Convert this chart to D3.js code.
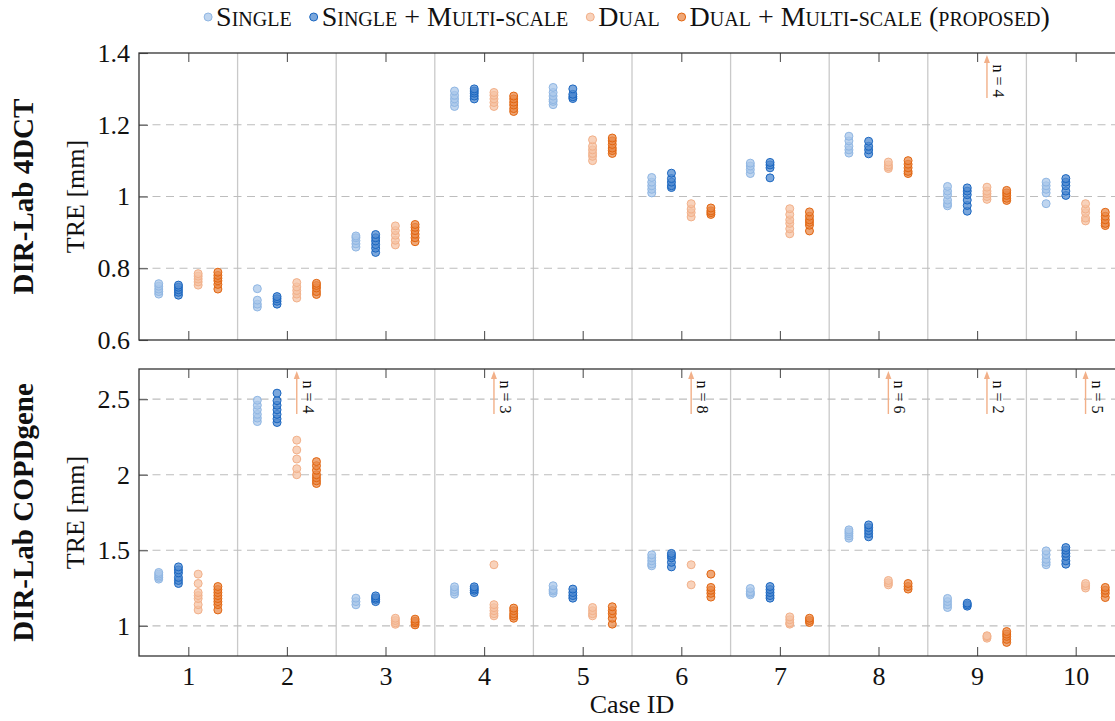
<!DOCTYPE html>
<html>
<head>
<meta charset="utf-8">
<script src="https://cdn.jsdelivr.net/npm/d3@7"></script>
<style>
  body { margin: 0; background: #fff; }
  svg text { font-family: "Liberation Serif", "DejaVu Serif", serif; fill: #111; }
</style>
</head>
<body>
<svg id="chart" width="1115" height="721"></svg>
<script>
// ---- data ----
const cases = [1, 2, 3, 4, 5, 6, 7, 8, 9, 10];
const seriesNames = ["Single", "Single + Multi-scale", "Dual", "Dual + Multi-scale (proposed)"];

const dctTicks = [0.6, 0.8, 1, 1.2, 1.4];
const copdTicks = [1, 1.5, 2, 2.5];

// DIR-Lab 4DCT, TRE per run, one list per case
const dctSingle = [
  [0.728, 0.735, 0.742, 0.75, 0.757],
  [0.692, 0.70, 0.711, 0.743],
  [0.859, 0.868, 0.877, 0.885, 0.89],
  [1.251, 1.262, 1.272, 1.282, 1.294],
  [1.256, 1.265, 1.27, 1.28, 1.29, 1.304],
  [1.01, 1.02, 1.03, 1.04, 1.053],
  [1.064, 1.075, 1.085, 1.093],
  [1.121, 1.13, 1.14, 1.155, 1.168],
  [0.974, 0.98, 0.99, 1.005, 1.015, 1.028],
  [0.98, 1.01, 1.02, 1.03, 1.04]
];
const dctSingleMS = [
  [0.725, 0.733, 0.74, 0.747, 0.753],
  [0.70, 0.708, 0.715, 0.721],
  [0.844, 0.856, 0.866, 0.876, 0.885, 0.894],
  [1.272, 1.28, 1.288, 1.294, 1.30],
  [1.273, 1.278, 1.285, 1.30],
  [1.025, 1.03, 1.04, 1.05, 1.065],
  [1.052, 1.08, 1.088, 1.095],
  [1.119, 1.13, 1.14, 1.154],
  [0.959, 0.975, 0.99, 1.005, 1.015, 1.024],
  [1.003, 1.015, 1.03, 1.04, 1.05]
];
const dctDual = [
  [0.753, 0.762, 0.77, 0.778, 0.785],
  [0.717, 0.728, 0.738, 0.748, 0.76],
  [0.865, 0.878, 0.892, 0.905, 0.918],
  [1.251, 1.262, 1.272, 1.282, 1.29],
  [1.10, 1.112, 1.12, 1.13, 1.14, 1.158],
  [0.943, 0.955, 0.965, 0.98],
  [0.896, 0.91, 0.925, 0.935, 0.95, 0.966],
  [1.078, 1.083, 1.088, 1.096],
  [0.992, 1.0, 1.008, 1.015, 1.026],
  [0.932, 0.94, 0.955, 0.965, 0.98]
];
const dctDualMS = [
  [0.742, 0.755, 0.765, 0.772, 0.78, 0.789],
  [0.727, 0.735, 0.745, 0.752, 0.758],
  [0.874, 0.885, 0.895, 0.905, 0.914, 0.922],
  [1.237, 1.245, 1.255, 1.263, 1.272, 1.28],
  [1.12, 1.128, 1.135, 1.145, 1.155, 1.163],
  [0.95, 0.955, 0.96, 0.968],
  [0.904, 0.92, 0.928, 0.935, 0.945, 0.957],
  [1.064, 1.07, 1.08, 1.09, 1.10],
  [0.989, 0.995, 1.003, 1.01, 1.017],
  [0.919, 0.925, 0.935, 0.945, 0.956]
];
const dctDualAbove = [0, 0, 0, 0, 0, 0, 0, 0, 4, 0];   // points off the top (Dual)

// DIR-Lab COPDgene
const copdSingle = [
  [1.309, 1.32, 1.33, 1.342, 1.353],
  [2.352, 2.375, 2.40, 2.43, 2.46, 2.493],
  [1.139, 1.16, 1.183],
  [1.209, 1.225, 1.24, 1.258],
  [1.216, 1.23, 1.24, 1.265],
  [1.397, 1.41, 1.43, 1.45, 1.47],
  [1.205, 1.215, 1.225, 1.247],
  [1.58, 1.595, 1.61, 1.622, 1.635],
  [1.121, 1.14, 1.16, 1.181],
  [1.404, 1.42, 1.44, 1.47, 1.496]
];
const copdSingleMS = [
  [1.28, 1.30, 1.32, 1.35, 1.37, 1.39],
  [2.346, 2.37, 2.40, 2.43, 2.46, 2.49, 2.54],
  [1.16, 1.175, 1.185, 1.198],
  [1.22, 1.235, 1.245, 1.258],
  [1.183, 1.2, 1.22, 1.243],
  [1.39, 1.42, 1.45, 1.465, 1.479],
  [1.183, 1.2, 1.22, 1.24, 1.26],
  [1.589, 1.61, 1.63, 1.65, 1.668],
  [1.13, 1.14, 1.15],
  [1.408, 1.43, 1.46, 1.48, 1.5, 1.518]
];
const copdDual = [
  [1.105, 1.14, 1.18, 1.2, 1.22, 1.28, 1.342],
  [2.0, 2.04, 2.104, 2.164, 2.229],
  [1.01, 1.02, 1.035, 1.05],
  [1.066, 1.08, 1.1, 1.12, 1.14, 1.404],
  [1.066, 1.08, 1.1, 1.121],
  [1.271, 1.404],
  [1.011, 1.02, 1.04, 1.059],
  [1.271, 1.285, 1.3],
  [0.918, 0.928, 0.934],
  [1.25, 1.265, 1.28]
];
const copdDualMS = [
  [1.105, 1.14, 1.16, 1.18, 1.2, 1.22, 1.24, 1.26],
  [1.942, 1.96, 1.98, 2.0, 2.03, 2.06, 2.087],
  [1.006, 1.02, 1.03, 1.044],
  [1.05, 1.065, 1.08, 1.1, 1.117],
  [1.011, 1.05, 1.08, 1.1, 1.126],
  [1.19, 1.215, 1.235, 1.254, 1.342],
  [1.022, 1.035, 1.05],
  [1.243, 1.26, 1.28],
  [0.89, 0.91, 0.93, 0.945, 0.962],
  [1.187, 1.215, 1.235, 1.254]
];
const copdDualAbove = [0, 4, 0, 3, 0, 8, 0, 6, 2, 5];

// ---- style ----
const strokeCol = ["#8fb6e3", "#1a66c0", "#f2b089", "#e2650f"];
const fillCol   = ["#a9c7ea", "#4f8ad0", "#f5c3a4", "#ea8a4a"];
const offsets = [-0.3, -0.1, 0.1, 0.3];   // x shift of each series inside a case

const left = 139, right = 1125;
const svg = d3.select("#chart");

const x = d3.scaleLinear().domain([0.5, 10.5]).range([left, right]);

const panels = [
  { label: "DIR-Lab 4DCT", top: 53, bottom: 340, domain: [0.6, 1.4], ticks: dctTicks,
    series: [dctSingle, dctSingleMS, dctDual, dctDualMS], above: dctDualAbove, xLabels: false },
  { label: "DIR-Lab COPDgene", top: 369, bottom: 656, domain: [0.8, 2.7], ticks: copdTicks,
    series: [copdSingle, copdSingleMS, copdDual, copdDualMS], above: copdDualAbove, xLabels: true }
];

function styleAxis(g) {
  g.attr("font-size", null).attr("font-family", null);
  g.select(".domain").remove();
  g.selectAll(".tick line").attr("stroke", "#555").attr("stroke-width", 1.1);
  g.selectAll(".tick text").style("font-size", "26px").attr("fill", "#111");
}

panels.forEach(p => {
  const y = d3.scaleLinear().domain(p.domain).range([p.bottom, p.top]);
  const g = svg.append("g");

  // vertical separators between cases
  g.selectAll("line.vgrid")
    .data(d3.range(1.5, 10.5, 1))
    .enter().append("line")
      .attr("x1", d => x(d)).attr("x2", d => x(d))
      .attr("y1", p.top).attr("y2", p.bottom)
      .attr("stroke", "#c9c9c9").attr("stroke-width", 1.3);

  // dashed horizontal grid
  g.selectAll("line.hgrid")
    .data(p.ticks.filter(t => t > p.domain[0] && t < p.domain[1]))
    .enter().append("line")
      .attr("x1", left).attr("x2", right)
      .attr("y1", d => y(d)).attr("y2", d => y(d))
      .attr("stroke", "#bdbdbd").attr("stroke-width", 1.2)
      .attr("stroke-dasharray", "8,5.5");

  // axes, ticks pointing inwards
  g.append("g").attr("transform", `translate(${left},0)`)
    .call(d3.axisLeft(y).tickValues(p.ticks).tickSize(-9).tickPadding(9).tickFormat(d => String(d)))
    .call(styleAxis);
  g.append("g").attr("transform", `translate(${right},0)`)
    .call(d3.axisRight(y).tickValues(p.ticks).tickSize(-9).tickFormat(""))
    .call(styleAxis);
  g.append("g").attr("transform", `translate(0,${p.top})`)
    .call(d3.axisTop(x).tickValues(cases).tickSize(-9).tickFormat(""))
    .call(styleAxis);
  g.append("g").attr("transform", `translate(0,${p.bottom})`)
    .call(d3.axisBottom(x).tickValues(cases).tickSize(-9).tickPadding(11)
      .tickFormat(p.xLabels ? d3.format("d") : ""))
    .call(styleAxis);

  // frame
  g.append("rect")
    .attr("x", left).attr("y", p.top)
    .attr("width", right - left).attr("height", p.bottom - p.top)
    .attr("fill", "none").attr("stroke", "#333").attr("stroke-width", 1.3);

  // points
  const pts = [];
  p.series.forEach((ser, s) => {
    ser.forEach((vals, i) => {
      vals.forEach(v => pts.push({ s: s, c: cases[i], v: v }));
    });
  });
  g.selectAll("circle.pt")
    .data(pts)
    .enter().append("circle")
      .attr("cx", d => x(d.c + offsets[d.s]))
      .attr("cy", d => y(d.v))
      .attr("r", 4)
      .attr("fill", d => fillCol[d.s])
      .attr("fill-opacity", 0.75)
      .attr("stroke", d => strokeCol[d.s])
      .attr("stroke-width", 1);

  // arrows for Dual points above the axis range
  const arr = p.above.map((n, i) => ({ n: n, c: cases[i] })).filter(d => d.n > 0);
  const ag = g.selectAll("g.arrow").data(arr).enter().append("g")
    .attr("transform", d => `translate(${x(d.c + offsets[2])},${p.top})`);
  ag.append("line")
    .attr("x1", 0).attr("x2", 0).attr("y1", 45).attr("y2", 9)
    .attr("stroke", strokeCol[2]).attr("stroke-width", 1.4);
  ag.append("path")
    .attr("d", "M0,2 L-3,10 L3,10 Z")
    .attr("fill", strokeCol[2]);
  ag.append("text")
    .attr("transform", "translate(6,28) rotate(90)")
    .attr("text-anchor", "middle")
    .style("font-size", "16px")
    .text(d => "n = " + d.n);

  // axis titles
  const cy = (p.top + p.bottom) / 2;
  svg.append("text")
    .attr("transform", `translate(84,${cy}) rotate(-90)`)
    .attr("text-anchor", "middle")
    .style("font-size", "26px")
    .text("TRE [mm]");
  svg.append("text")
    .attr("transform", `translate(33,${cy}) rotate(-90)`)
    .attr("text-anchor", "middle")
    .style("font-size", "29px").style("font-weight", "bold")
    .text(p.label);
});

svg.append("text")
  .attr("x", (left + right) / 2).attr("y", 713)
  .attr("text-anchor", "middle")
  .style("font-size", "26px")
  .text("Case ID");

// legend, laid out left to right then centred
const lg = svg.append("g");
let cx = 0;
seriesNames.forEach((name, s) => {
  lg.append("circle")
    .attr("cx", cx).attr("cy", 17).attr("r", 4)
    .attr("fill", fillCol[s]).attr("fill-opacity", 0.75)
    .attr("stroke", strokeCol[s]).attr("stroke-width", 1);
  const t = lg.append("text")
    .attr("x", cx + 8).attr("y", 26)
    .style("font-size", "28px").style("font-variant", "small-caps")
    .text(name);
  cx = cx + 8 + t.node().getComputedTextLength() + 22;
});
const lw = cx - 22 + 4;
lg.attr("transform", `translate(${627 - lw / 2 + 4},0)`);
</script>
</body>
</html>
